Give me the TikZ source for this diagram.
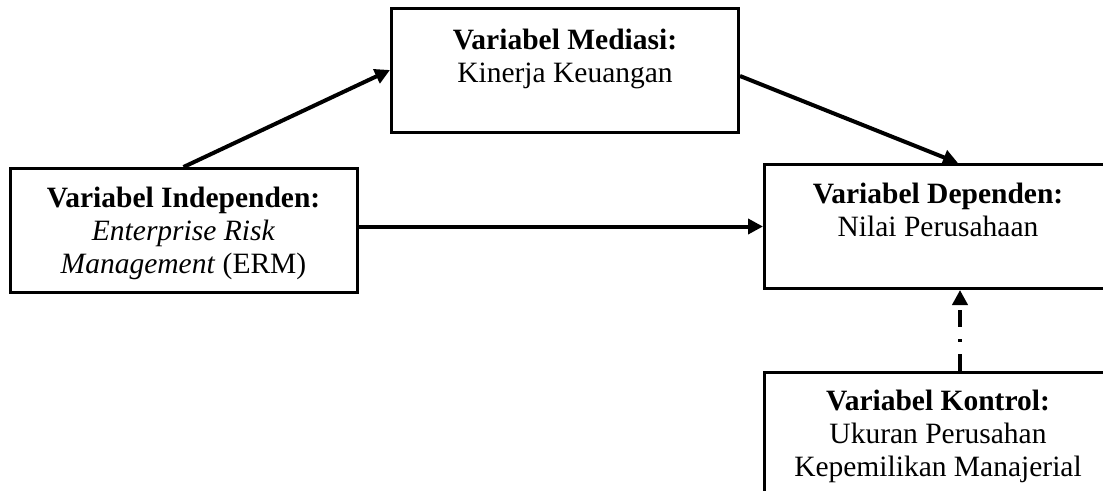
\documentclass[tikz,border=0pt]{standalone}
\usepackage{fontspec}
\setmainfont{Liberation Serif}
\usetikzlibrary{arrows.meta}
\begin{document}
\begin{tikzpicture}[x=1pt,y=-1pt,
  box/.style={draw,line width=3pt,minimum width=347pt,minimum height=124pt,inner sep=0pt},
  txt/.style={font=\fontsize{29.5}{33}\selectfont,align=center,inner sep=0pt,anchor=north},
  arr/.style={line width=4pt,-{Triangle[length=15pt,width=15pt]}}]
\useasboundingbox (0,0) rectangle (1103,490);
\node[box] (ind) at (183.5,230.5) {};
\node[box] (med) at (565,70) {};
\node[box] (dep) at (938,226.5) {};
\node[box,minimum height=140pt] (kon) at (938,442) {};
\node[txt] (tind) at (183.5,187) {\textbf{Variabel Independen:}\\ \textit{Enterprise Risk}\\ \textit{Management} (ERM)};
\node[txt] (tmed) at (565,29) {\textbf{Variabel Mediasi:}\\ Kinerja Keuangan};
\node[txt] (tdep) at (938,183) {\textbf{Variabel Dependen:}\\ Nilai Perusahaan};
\node[txt] (tkon) at (938,390) {\textbf{Variabel Kontrol:}\\ Ukuran Perusahan\\ Kepemilikan Manajerial};
\draw[arr] (ind.north) -- (med.west);
\draw[arr] ([yshift=-6pt]med.east) -- ([xshift=20pt]dep.north);
\draw[arr] (dep.west -| ind.east) -- (dep.west);
\draw[arr,dash pattern=on 17pt off 12pt on 3pt off 12pt] ([xshift=22pt]kon.north) -- ([xshift=22pt]dep.south);
\end{tikzpicture}
\end{document}
